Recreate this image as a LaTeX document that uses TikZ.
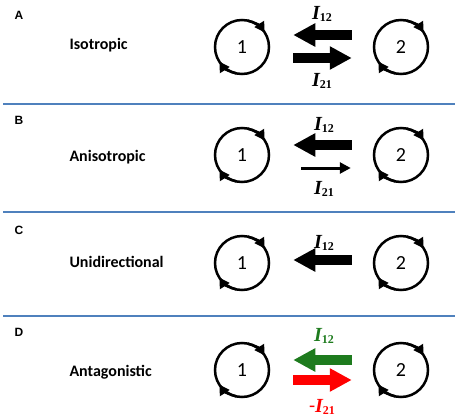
\documentclass[tikz,border=0pt]{standalone}
\usepackage{fontspec}
\setmainfont{Carlito}
\newfontfamily\arialfont{Liberation Sans}
\newfontfamily\timesfont{Liberation Serif}
\usetikzlibrary{arrows.meta}
\definecolor{sepblue}{HTML}{4F81BD}
\definecolor{agreen}{HTML}{1E7B1E}
\newcommand{\curr}[1]{{\timesfont\bfseries\itshape I}\raisebox{-1.5pt}{\timesfont\bfseries\fontsize{12}{12}\selectfont #1}}
\begin{document}
\begin{tikzpicture}[x=1pt,y=1pt,
  cell/.style={circle,draw,line width=2.5pt,minimum size=54pt,inner sep=0pt,font=\fontsize{20}{20}\selectfont},
  spin/.style={line width=2.5pt,-{Triangle[length=10pt,width=11pt]}},
  flow/.style={line width=10pt,-{Triangle[length=22pt,width=22pt]}},
  weak/.style={line width=3pt,-{Triangle[length=11pt,width=11pt]}},
  panel/.style={font=\arialfont\bfseries\fontsize{12}{12}\selectfont},
  kind/.style={anchor=base west,font=\bfseries\fontsize{16}{16}\selectfont},
  curlab/.style={font=\fontsize{20}{20}\selectfont},
  sep/.style={sepblue,line width=1.2pt}]
\useasboundingbox (0,0) rectangle (459,-418);
% the two oscillators of each case
\foreach \p/\y in {a/47,b/155,c/263,d/370}{
  \node[cell] (\p1) at (242,-\y) {1};
  \node[cell] (\p2) at (401,-\y) {2};
  \foreach \n in {1,2}{
    \draw[spin] ([shift={(78:27)}]\p\n.center) arc[start angle=78,end angle=33,radius=27];
    \draw[spin] ([shift={(258:27)}]\p\n.center) arc[start angle=258,end angle=213,radius=27];
  }
}
% separators
\draw[sep] (3,-104) -- (455,-104);
\draw[sep] (3,-212) -- (455,-212);
\draw[sep] (3,-316) -- (455,-316);
% A
\node[panel] (pa) at (19,-15) {A};
\node[kind] (ka) at (66,-49) {Isotropic};
\draw[flow] ([yshift=12pt]a2.west) [shorten <=21pt,shorten >=23pt] -- ([yshift=12pt]a1.east);
\draw[flow] ([yshift=-11pt]a1.east) [shorten <=23pt,shorten >=21pt] -- ([yshift=-11pt]a2.west);
\node[curlab] (ia12) at (322,-14) {\curr{12}};
\node[curlab] (ia21) at (322,-81) {\curr{21}};
% B
\node[panel] (pb) at (19,-120) {B};
\node[kind] (kb) at (66,-161) {Anisotropic};
\draw[flow] ([yshift=10pt]b2.west) [shorten <=21pt,shorten >=23pt] -- ([yshift=10pt]b1.east);
\draw[weak] ([yshift=-13pt]b1.east) [shorten <=31pt,shorten >=22pt] -- ([yshift=-13pt]b2.west);
\node[curlab] (ib12) at (324,-125) {\curr{12}};
\node[curlab] (ib21) at (324,-189) {\curr{21}};
% C
\node[panel] (pc) at (19,-230) {C};
\node[kind] (kc) at (66,-267) {Unidirectional};
\draw[flow] ([yshift=3pt]c2.west) [shorten <=21pt,shorten >=23pt] -- ([yshift=3pt]c1.east);
\node[curlab] (ic12) at (324,-243) {\curr{12}};
% D
\node[panel] (pd) at (19,-332) {D};
\node[kind] (kd) at (66,-376) {Antagonistic};
\draw[flow,agreen] ([yshift=10pt]d2.west) [shorten <=21pt,shorten >=23pt] -- ([yshift=10pt]d1.east);
\draw[flow,red] ([yshift=-10pt]d1.east) [shorten <=23pt,shorten >=21pt] -- ([yshift=-10pt]d2.west);
\node[curlab,agreen] (id12) at (324,-336) {\curr{12}};
\node[curlab,red] (id21) at (322,-407) {-\curr{21}};
\end{tikzpicture}
\end{document}
